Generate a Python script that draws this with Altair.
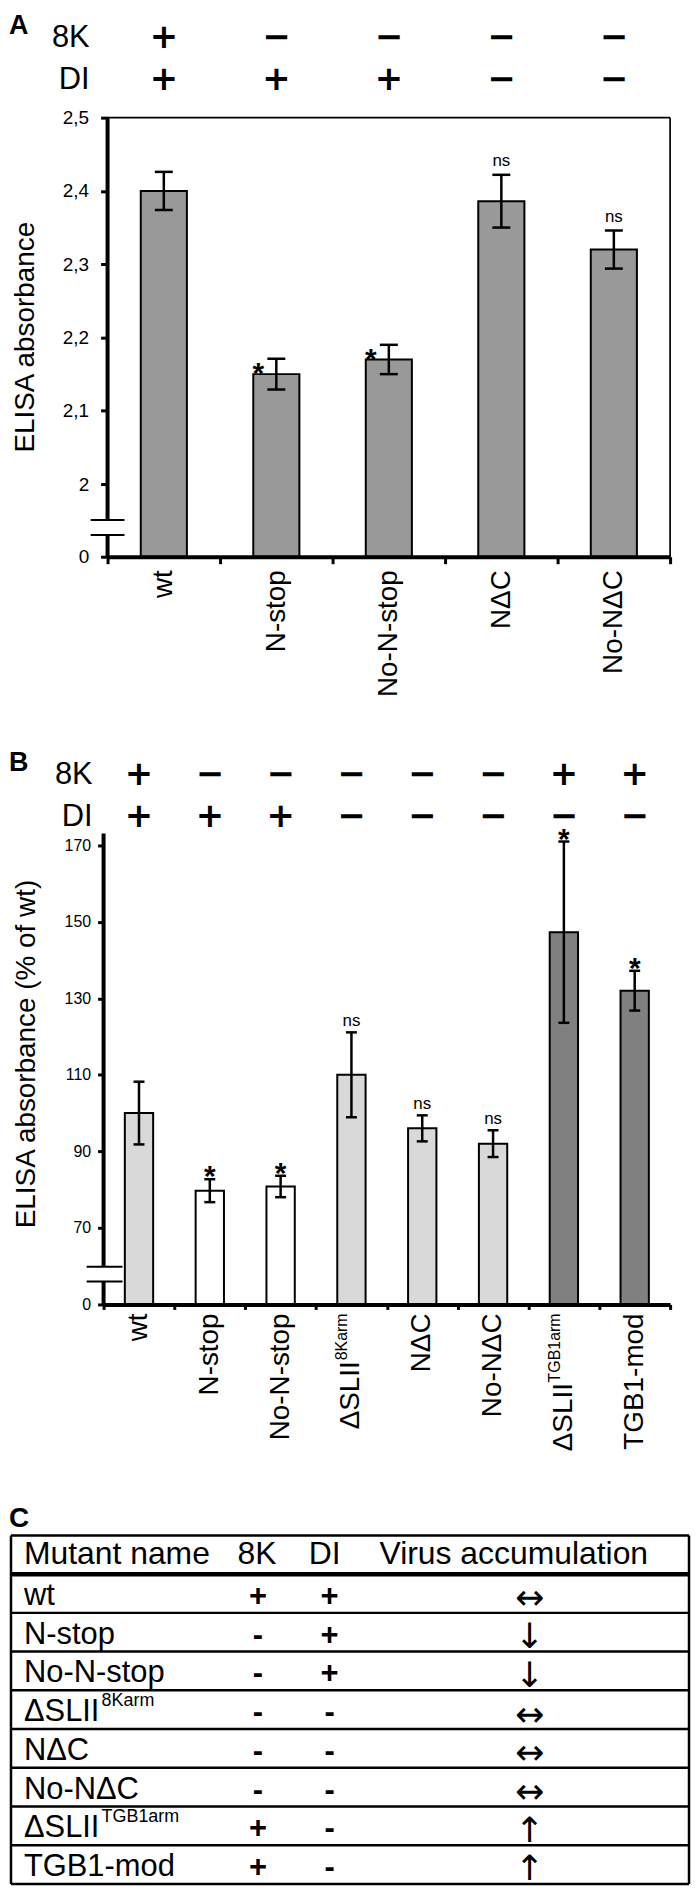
import altair as alt
import pandas as pd

FONT = "Liberation Sans"
SIGN_FONT = "DejaVu Sans"

# ---------------- data ----------------
# Panel A
cats_a = ["wt", "N-stop", "No-N-stop", "NΔC", "No-NΔC"]
vals_a = [2.400, 2.150, 2.170, 2.386, 2.320]
errs_a = [0.026, 0.021, 0.020, 0.036, 0.026]
sig_a = ["", "*", "*", "ns", "ns"]
k8_a = ["+", "−", "−", "−", "−"]
di_a = ["+", "+", "+", "−", "−"]
ticks_a = [0, 2, 2.1, 2.2, 2.3, 2.4, 2.5]

# Panel B
keys_b = ["wt", "N-stop", "No-N-stop", "ΔSLII8Karm", "NΔC", "No-NΔC", "ΔSLIITGB1arm", "TGB1-mod"]
labels_b = ["wt", "N-stop", "No-N-stop", "ΔSLII", "NΔC", "No-NΔC", "ΔSLII", "TGB1-mod"]
sups_b = ["", "", "", "8Karm", "", "", "TGB1arm", ""]
vals_b = [100.0, 79.7, 80.8, 110.0, 96.0, 92.0, 147.3, 132.0]
errs_b = [8.2, 3.0, 2.8, 11.1, 3.4, 3.5, 23.7, 5.2]
fills_b = ["#d9d9d9", "#ffffff", "#ffffff", "#d9d9d9", "#d9d9d9", "#d9d9d9", "#808080", "#808080"]
sig_b = ["", "*", "*", "ns", "ns", "ns", "*", "*"]
k8_b = ["+", "−", "−", "−", "−", "−", "+", "+"]
di_b = ["+", "+", "+", "−", "−", "−", "−", "−"]
ticks_b = [0, 70, 90, 110, 130, 150, 170]

# Panel C (table)
tbl_header = ["Mutant name", "8K", "DI", "Virus accumulation"]
tbl_names = ["wt", "N-stop", "No-N-stop", "ΔSLII", "NΔC", "No-NΔC", "ΔSLII", "TGB1-mod"]
tbl_sups = ["", "", "", "8Karm", "", "", "TGB1arm", ""]
tbl_8k = ["+", "-", "-", "-", "-", "-", "+", "+"]
tbl_di = ["+", "+", "+", "-", "-", "-", "-", "-"]
tbl_acc = ["↔", "↓", "↓", "↔", "↔", "↔", "↑", "↑"]

ONE = alt.Data(values=[{"k": 1}])


def frame(x1, x2, y1, y2):
    return alt.Chart(ONE).mark_rect(opacity=0).encode(
        x=alt.value(x1), x2=alt.value(x2), y=alt.value(y1), y2=alt.value(y2))


def label(text, x, y, size, weight="normal", align="left"):
    return alt.Chart(ONE).mark_text(
        text=text, fontSize=size, fontWeight=weight, align=align,
        baseline="alphabetic", color="black"
    ).encode(x=alt.value(x), y=alt.value(y))


# every panel has its plot origin at the same page x; left frame edge at -95
# ---------------- Panel A ----------------
df_a = pd.DataFrame({"cat": cats_a, "val": vals_a, "err": errs_a,
                     "sig": sig_a, "k8": k8_a, "di": di_a})
df_a["lo"] = df_a["val"] - df_a["err"]
df_a["hi"] = df_a["val"] + df_a["err"]

WA, HA = 569, 441
AX0 = 4  # axis position inside panel A
axis_xa = alt.Axis(title=None, labelAngle=-90, labelFontSize=28, labelColor="black",
                   labelPadding=6, tickBand="extent", tickSize=7, tickWidth=3,
                   tickColor="black", domainWidth=4, domainColor="black", grid=False,
                   zindex=1)
xa = alt.X("cat:N", scale=alt.Scale(domain=cats_a, range=[AX0, WA], paddingInner=0,
                                    paddingOuter=0), axis=axis_xa)
ys_a = alt.Scale(domain=[0, 2, 2.5], range=[HA, 368, 0], nice=False, zero=False)
axis_ya = alt.Axis(values=ticks_a, offset=-AX0,
                   labelExpr="replace(format(datum.value, '~g'), '.', ',')",
                   labelFontSize=19, labelColor="black", labelPadding=12,
                   tickSize=7, tickWidth=3, tickColor="black", domain=False, grid=False,
                   title="ELISA absorbance", titleFontSize=28, titleFontWeight="normal",
                   titleColor="black", titleAngle=270, titleX=-82, titleY=220,
                   titleAlign="center", titleBaseline="middle")


def ya(field):
    return alt.Y(field, scale=ys_a, axis=axis_ya)


def yda(v):
    return alt.YDatum(v, type="quantitative", scale=ys_a, axis=axis_ya)


base_a = alt.Chart(df_a)
bars_a = base_a.mark_bar(width={"band": 0.41}, fill="#999999", stroke="black",
                         strokeWidth=2, opacity=1).encode(x=xa, y=ya("val:Q"), y2=alt.datum(0))
err_a = base_a.mark_rule(strokeWidth=2.5, color="black").encode(x=xa, y=ya("lo:Q"), y2="hi:Q")
caplo_a = base_a.mark_tick(size=18, thickness=2.5, color="black", opacity=1).encode(x=xa, y=ya("lo:Q"))
caphi_a = base_a.mark_tick(size=18, thickness=2.5, color="black", opacity=1).encode(x=xa, y=ya("hi:Q"))
star_a = base_a.transform_filter("datum.sig == '*'").mark_text(
    fontSize=30, fontWeight="bold", baseline="alphabetic", dx=-18, dy=24, color="black"
).encode(x=xa, y=ya("hi:Q"), text="sig:N")
ns_a = base_a.transform_filter("datum.sig == 'ns'").mark_text(
    fontSize=17, baseline="alphabetic", dy=-8.6, color="black"
).encode(x=xa, y=ya("hi:Q"), text="sig:N")
sign_kw = dict(fontSize=34, font=SIGN_FONT, fontWeight="bold", baseline="alphabetic",
               color="black")
row8k_a = base_a.mark_text(**sign_kw).encode(x=xa, y=alt.value(-70), text="k8:N")
rowdi_a = base_a.mark_text(**sign_kw).encode(x=xa, y=alt.value(-28), text="di:N")
axl1_a = alt.Chart(ONE).mark_rule(strokeWidth=4, color="black").encode(
    x=alt.value(AX0), y=yda(1.01), y2=alt.datum(2.5))
axl2_a = alt.Chart(ONE).mark_rule(strokeWidth=4, color="black").encode(
    x=alt.value(AX0), y=yda(0), y2=alt.datum(0.6))
brk1_a = alt.Chart(ONE).mark_rule(strokeWidth=2, color="black").encode(
    x=alt.value(AX0 - 17), x2=alt.value(AX0 + 17), y=yda(1.01))
brk2_a = alt.Chart(ONE).mark_rule(strokeWidth=2, color="black").encode(
    x=alt.value(AX0 - 17), x2=alt.value(AX0 + 17), y=yda(0.6))
top_a = alt.Chart(ONE).mark_rule(strokeWidth=1.7, color="black").encode(
    x=alt.value(AX0), x2=alt.value(WA), y=yda(2.5))
right_a = alt.Chart(ONE).mark_rule(strokeWidth=1.7, color="black").encode(
    x=alt.value(WA), y=yda(0), y2=alt.datum(2.5))

panel_a = alt.layer(
    frame(-95, 589, -103, 629),
    bars_a, err_a, caplo_a, caphi_a, star_a, ns_a, row8k_a, rowdi_a,
    label("A", -95, -84, 27, "bold"),
    label("8K", -14, -71, 31, align="right"),
    label("DI", -14, -29, 31, align="right"),
    axl1_a, axl2_a, brk1_a, brk2_a, top_a, right_a,
).properties(width=WA, height=HA)

# ---------------- Panel B ----------------
df_b = pd.DataFrame({"key": keys_b, "lab": labels_b, "sup": sups_b, "val": vals_b,
                     "err": errs_b, "fill": fills_b, "sig": sig_b, "k8": k8_b, "di": di_b})
df_b["lo"] = df_b["val"] - df_b["err"]
df_b["hi"] = df_b["val"] + df_b["err"]

WB, HB = 569, 473
axis_xb = alt.Axis(title=None, labels=False, tickBand="extent", tickSize=5, tickWidth=3,
                   tickColor="black", domainWidth=4, domainColor="black", grid=False, zindex=1)
xb = alt.X("key:N", scale=alt.Scale(domain=keys_b, paddingInner=0, paddingOuter=0), axis=axis_xb)
ys_b = alt.Scale(domain=[0, 70, 173.1], range=[HB, 396, 0], nice=False, zero=False)
axis_yb = alt.Axis(values=ticks_b, labelFontSize=16, labelColor="black", labelPadding=7,
                   tickSize=6, tickWidth=3, tickColor="black", domain=False, grid=False,
                   title="ELISA absorbance (% of wt)", titleFontSize=28,
                   titleFontWeight="normal", titleColor="black", titleAngle=270,
                   titleX=-77, titleY=221, titleAlign="center", titleBaseline="middle")


def yb(field):
    return alt.Y(field, scale=ys_b, axis=axis_yb)


def ydb(v):
    return alt.YDatum(v, type="quantitative", scale=ys_b, axis=axis_yb)


base_b = alt.Chart(df_b)
bars_b = base_b.mark_bar(width={"band": 0.4}, stroke="black", strokeWidth=2, opacity=1).encode(
    x=xb, y=yb("val:Q"), y2=alt.datum(0), color=alt.Color("fill:N", scale=None))
err_b = base_b.mark_rule(strokeWidth=2.5, color="black").encode(x=xb, y=yb("lo:Q"), y2="hi:Q")
caplo_b = base_b.mark_tick(size=11, thickness=2.5, color="black", opacity=1).encode(x=xb, y=yb("lo:Q"))
caphi_b = base_b.mark_tick(size=11, thickness=2.5, color="black", opacity=1).encode(x=xb, y=yb("hi:Q"))
star_b = base_b.transform_filter("datum.sig == '*'").mark_text(
    fontSize=30, fontWeight="bold", baseline="alphabetic", dy=7, color="black"
).encode(x=xb, y=yb("hi:Q"), text="sig:N")
ns_b = base_b.transform_filter("datum.sig == 'ns'").mark_text(
    fontSize=17, baseline="alphabetic", dy=-6.6, color="black"
).encode(x=xb, y=yb("hi:Q"), text="sig:N")
row8k_b = base_b.mark_text(**sign_kw).encode(x=xb, y=alt.value(-49), text="k8:N")
rowdi_b = base_b.mark_text(**sign_kw).encode(x=xb, y=alt.value(-7), text="di:N")
lab_kw = dict(angle=270, align="right", baseline="middle", fontSize=28, color="black")
lab_plain_b = base_b.transform_filter("datum.sup == ''").mark_text(**lab_kw).encode(
    x=xb, y=alt.value(HB + 9), text="lab:N")
lab_s1_b = base_b.transform_filter("datum.sup == '8Karm'").mark_text(dx=-48, **lab_kw).encode(
    x=xb, y=alt.value(HB + 9), text="lab:N")
lab_s2_b = base_b.transform_filter("datum.sup == 'TGB1arm'").mark_text(dx=-70, **lab_kw).encode(
    x=xb, y=alt.value(HB + 9), text="lab:N")
sup_b = base_b.transform_filter("datum.sup != ''").mark_text(
    angle=270, align="right", baseline="middle", fontSize=16, dy=-9, color="black"
).encode(x=xb, y=alt.value(HB + 9), text="sup:N")
axl1_b = alt.Chart(ONE).mark_rule(strokeWidth=4, color="black").encode(
    x=alt.value(0), y=ydb(34.5), y2=alt.datum(173.1))
axl2_b = alt.Chart(ONE).mark_rule(strokeWidth=4, color="black").encode(
    x=alt.value(0), y=ydb(0), y2=alt.datum(20.9))
brk1_b = alt.Chart(ONE).mark_rule(strokeWidth=2, color="black").encode(
    x=alt.value(-17), x2=alt.value(19), y=ydb(34.5))
brk2_b = alt.Chart(ONE).mark_rule(strokeWidth=2, color="black").encode(
    x=alt.value(-17), x2=alt.value(19), y=ydb(20.9))

panel_b = alt.layer(
    frame(-95, 589, -90, 650),
    bars_b, err_b, caplo_b, caphi_b, star_b, ns_b, row8k_b, rowdi_b,
    lab_plain_b, lab_s1_b, lab_s2_b, sup_b,
    label("B", -95, -63, 27, "bold"),
    label("8K", -11, -50, 31, align="right"),
    label("DI", -11, -8, 31, align="right"),
    axl1_b, axl2_b, brk1_b, brk2_b,
).properties(width=WB, height=HB)

# ---------------- Panel C (table) ----------------
WC, HC = 588, 350
TL = -93  # table left edge, relative to the common origin
df_t = pd.DataFrame({"row": list(range(1, 9)), "name": tbl_names, "sup": tbl_sups,
                     "k8": tbl_8k, "di": tbl_di, "acc": tbl_acc})
df_lines = pd.DataFrame({"row": list(range(9))})
ys_c = alt.Scale(domain=list(range(9)), paddingInner=0, paddingOuter=0)
yc = alt.Y("row:O", scale=ys_c, axis=None)
yc0 = alt.Y("row:O", scale=ys_c, axis=None, bandPosition=0)
yc1 = alt.Y("row:O", scale=ys_c, axis=None, bandPosition=1)

head_data = alt.Data(values=[{"row": 0}])


def head(text, x, align):
    return alt.Chart(head_data).mark_text(
        text=text, fontSize=32, align=align, baseline="alphabetic", dy=9.5, color="black"
    ).encode(x=alt.value(x), y=yc)


base_t = alt.Chart(df_t)
names_t = base_t.mark_text(fontSize=31, align="left", baseline="alphabetic", dy=11.5,
                           color="black").encode(x=alt.value(TL + 13), y=yc, text="name:N")
sups_t = base_t.transform_filter("datum.sup != ''").mark_text(
    fontSize=18, align="left", baseline="alphabetic", dy=-3.5, color="black"
).encode(x=alt.value(TL + 91), y=yc, text="sup:N")
k8_t = base_t.mark_text(fontSize=31, fontWeight="bold", baseline="alphabetic", dy=12.5,
                        color="black").encode(x=alt.value(TL + 248), y=yc, text="k8:N")
di_t = base_t.mark_text(fontSize=31, fontWeight="bold", baseline="alphabetic", dy=12.5,
                        color="black").encode(x=alt.value(TL + 320), y=yc, text="di:N")
acc_t = base_t.mark_text(fontSize=35, font="DejaVu Sans", baseline="alphabetic", dy=16,
                         color="black").encode(x=alt.value(TL + 521), y=yc, text="acc:N")
hlines = alt.Chart(df_lines).mark_rule(strokeWidth=2.5, color="black").encode(
    x=alt.value(TL), x2=alt.value(WC), y=yc0)
bottom_line = alt.Chart(df_lines).transform_filter("datum.row == 8").mark_rule(
    strokeWidth=2.5, color="black").encode(x=alt.value(TL), x2=alt.value(WC), y=yc1)
head_line = alt.Chart(df_lines).transform_filter("datum.row == 1").mark_rule(
    strokeWidth=4.5, color="black").encode(x=alt.value(TL), x2=alt.value(WC), y=yc0)
vl = alt.Chart(ONE).mark_rule(strokeWidth=2.5, color="black").encode(
    x=alt.value(TL), y=alt.value(0), y2=alt.value(HC))
vr = alt.Chart(ONE).mark_rule(strokeWidth=2.5, color="black").encode(
    x=alt.value(WC), y=alt.value(0), y2=alt.value(HC))

panel_c = alt.layer(
    frame(-95, 589, -55, 351),
    hlines, bottom_line, head_line, vl, vr,
    head(tbl_header[0], TL + 13, "left"),
    head(tbl_header[1], TL + 247, "center"),
    head(tbl_header[2], TL + 315, "center"),
    head(tbl_header[3], TL + 505, "center"),
    names_t, sups_t, k8_t, di_t, acc_t,
    label("C", -95, -8, 28, "bold"),
).properties(width=WC, height=HC)

chart = alt.vconcat(panel_a, panel_b, panel_c, spacing=0).properties(
    padding=0
).configure(font=FONT).configure_view(stroke=None)

chart.save("out.html", embed_options={"renderer": "svg", "actions": False})
